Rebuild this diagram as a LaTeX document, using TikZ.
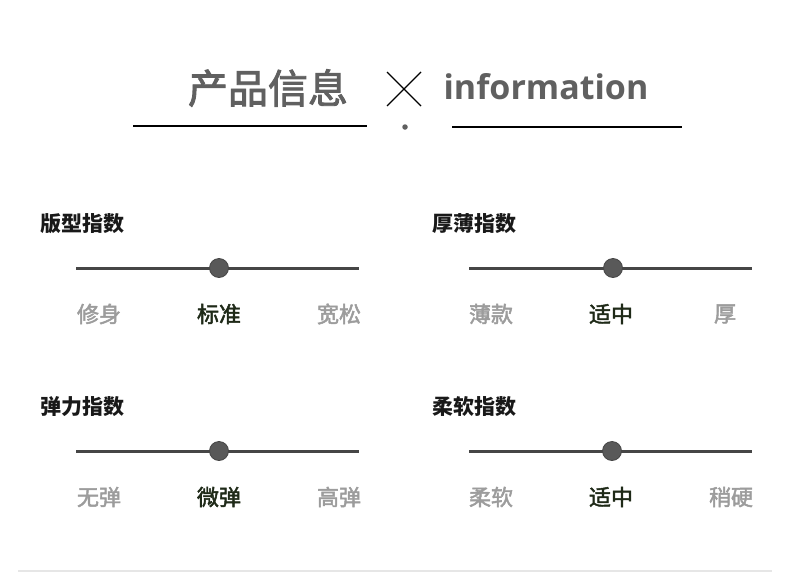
\documentclass[tikz,border=0pt]{standalone}
\usepackage{fontspec}
\setmainfont{Noto Sans CJK SC}
\newfontfamily\midfont[FakeBold=2.2]{Noto Sans CJK SC}
\newfontfamily\infofont{Open Sans}
\usetikzlibrary{positioning}
\definecolor{headgray}{HTML}{606060}
\definecolor{bargray}{HTML}{464646}
\definecolor{softgray}{HTML}{9C9C9C}
\definecolor{pickgreen}{HTML}{1F2A18}
\definecolor{rulegray}{HTML}{E6E6E6}

\begin{document}
\begin{tikzpicture}[x=1pt,y=-1pt,
    head/.style={inner sep=0pt,text=headgray,font=\midfont\fontsize{40}{40}\selectfont},
    info/.style={inner sep=0pt,text=headgray,font=\infofont\bfseries\fontsize{34}{34}\selectfont},
    sect/.style={inner sep=0pt,anchor=west,text=black!90,font=\bfseries\fontsize{21}{21}\selectfont},
    opt/.style={inner sep=0pt,text=softgray,font=\midfont\fontsize{22}{22}\selectfont},
    pick/.style={inner sep=0pt,text=pickgreen,font=\midfont\fontsize{22}{22}\selectfont},
    bar/.style={bargray,line width=3pt},
    knob/.style={circle,fill=bargray!90,draw=bargray,line width=0.8pt,minimum size=19pt,inner sep=0pt}]
    \useasboundingbox (0,0) rectangle (790,573);
    % header
    \node[head] (cn) at (268,88) {产品信息};
    \node[info] (en) at (546,87) {information};
    \coordinate (x1) at (387,72);
    \coordinate (x2) at (421,106);
    \coordinate (x3) at (387,106);
    \coordinate (x4) at (421,72);
    \draw[line width=1.3pt] (x1) -- (x2) (x3) -- (x4);
    \node[circle,fill=headgray,minimum size=5.5pt,inner sep=0pt] (dot) at (405,127) {};
    \coordinate (l1) at (133,126);
    \coordinate (l2) at (367,126);
    \coordinate (r1) at (452,127);
    \coordinate (r2) at (682,127);
    \draw[line width=2pt] (l1) -- (l2);
    \draw[line width=2pt] (r1) -- (r2);
    % fit
    \node[sect] (fit) at (40,224) {版型指数};
    \coordinate (fit_a) at (76,268);
    \coordinate (fit_b) at (359,268);
    \draw[bar] (fit_a) -- (fit_b);
    \node[knob] (fit_k) at (219,268) {};
    \node[opt] (fit_1) at (99,314) {修身};
    \node[pick] (fit_2) at (219,314) {标准};
    \node[opt] (fit_3) at (339,314) {宽松};
    % thickness
    \node[sect] (thk) at (432,224) {厚薄指数};
    \coordinate (thk_a) at (469,268);
    \coordinate (thk_b) at (752,268);
    \draw[bar] (thk_a) -- (thk_b);
    \node[knob] (thk_k) at (613,268) {};
    \node[opt] (thk_1) at (491,314) {薄款};
    \node[pick] (thk_2) at (611,314) {适中};
    \node[opt] (thk_3) at (725,314) {厚};
    % stretch
    \node[sect] (str) at (40,407) {弹力指数};
    \coordinate (str_a) at (76,451);
    \coordinate (str_b) at (359,451);
    \draw[bar] (str_a) -- (str_b);
    \node[knob] (str_k) at (219,451) {};
    \node[opt] (str_1) at (99,497) {无弹};
    \node[pick] (str_2) at (219,497) {微弹};
    \node[opt] (str_3) at (339,497) {高弹};
    % softness
    \node[sect] (sft) at (432,407) {柔软指数};
    \coordinate (sft_a) at (469,451);
    \coordinate (sft_b) at (752,451);
    \draw[bar] (sft_a) -- (sft_b);
    \node[knob] (sft_k) at (612,451) {};
    \node[opt] (sft_1) at (491,497) {柔软};
    \node[pick] (sft_2) at (611,497) {适中};
    \node[opt] (sft_3) at (731,497) {稍硬};
    % bottom rule
    \coordinate (b1) at (18,571);
    \coordinate (b2) at (772,571);
    \draw[rulegray,line width=1.5pt] (b1) -- (b2);
\end{tikzpicture}
\end{document}
